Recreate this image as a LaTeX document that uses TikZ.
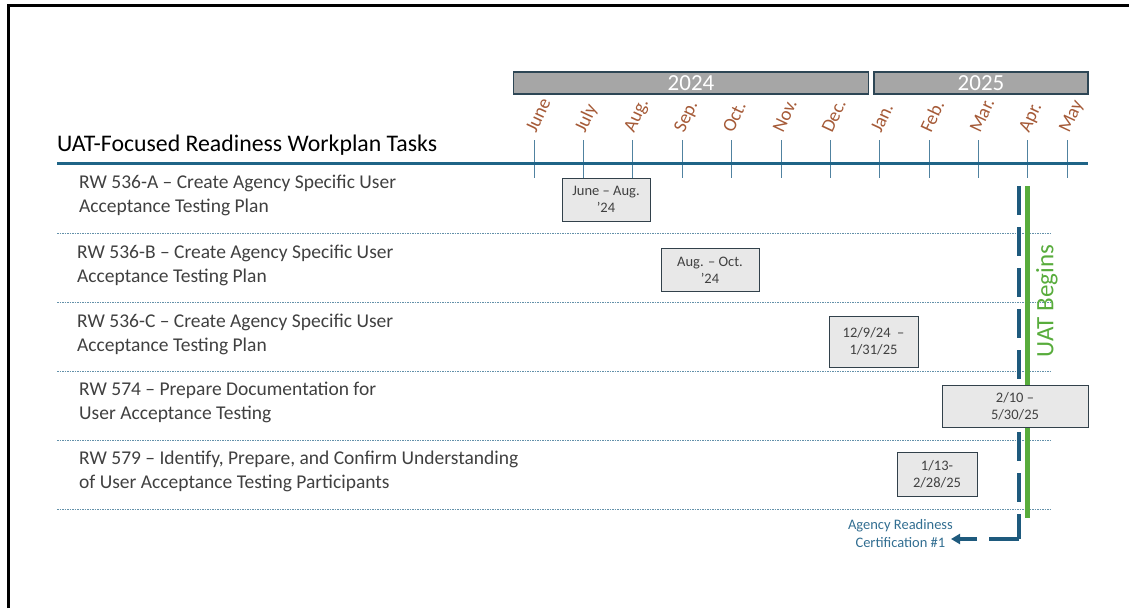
\documentclass[tikz,border=0pt]{standalone}
\usepackage{fontspec}
\setmainfont{Carlito}
\usetikzlibrary{arrows.meta}
\definecolor{txt}{RGB}{64,64,64}
\definecolor{axis}{RGB}{31,100,135}
\definecolor{tickc}{RGB}{80,130,160}
\definecolor{month}{RGB}{165,90,55}
\definecolor{yearfill}{RGB}{166,166,166}
\definecolor{yearedge}{RGB}{45,70,85}
\definecolor{boxfill}{RGB}{232,232,232}
\definecolor{boxedge}{RGB}{50,65,75}
\definecolor{sep}{RGB}{100,145,170}
\definecolor{uat}{RGB}{88,172,60}
\definecolor{cert}{RGB}{30,90,125}
\definecolor{certtxt}{RGB}{50,110,145}
\begin{document}
\begin{tikzpicture}[x=1pt,y=-1pt,
  yearbar/.style={draw=yearedge, line width=1.2pt, fill=yearfill, text=white, inner sep=0pt, font=\fontsize{23}{24}\selectfont},
  monthlbl/.style={text=month, rotate=65, anchor=base west, inner sep=0pt, font=\fontsize{19}{21}\selectfont},
  tickline/.style={draw=tickc, line width=1pt},
  tasktxt/.style={text=txt, anchor=north west, align=left, inner sep=0pt, font=\fontsize{19.5}{24}\selectfont},
  sepline/.style={draw=sep, line width=0.8pt, dash pattern=on 1.5pt off 1pt},
  datebox/.style={draw=boxedge, line width=1pt, fill=boxfill, text=txt, align=center, inner sep=0pt, font=\fontsize{14.5}{17}\selectfont},
]
\useasboundingbox (0,0) rectangle (1129,608);
% frame
\draw[line width=2.2pt] (8.5,608) -- (8.5,5.5) -- (1129,5.5);

% title
\node[anchor=base west, inner sep=0pt, font=\fontsize{23.8}{26}\selectfont] (title) at (57,151) {UAT-Focused Readiness Workplan Tasks};

% year bars
\node[yearbar, minimum width=355pt, minimum height=22pt] (y2024) at (691,83) {2024};
\node[yearbar, minimum width=214pt, minimum height=22pt] (y2025) at (981,83) {2025};

% ticks and months
\foreach \x/\m [count=\i] in {534/June,583/July,632/Aug.,682/Sep.,731/Oct.,781/Nov.,830/Dec.,879/Jan.,929/Feb.,978/Mar.,1027/Apr.,1067/May}{
  \draw[tickline] (\x,140) -- (\x,178);
  \node[monthlbl] (m\i) at (\x+2,134) {\m};
}
% main axis
\draw[axis, line width=3pt] (57,163) -- (1088,163);

% separators
\foreach \y in {233,302,371,440,509}{
  \draw[sepline] (57,\y) -- (1052,\y);
}

% tasks
\node[tasktxt] (t1) at (79,175) {RW 536-A -- Create Agency Specific User\\Acceptance Testing Plan};
\node[tasktxt] (t2) at (77,245) {RW 536-B -- Create Agency Specific User\\Acceptance Testing Plan};
\node[tasktxt] (t3) at (77,314) {RW 536-C -- Create Agency Specific User\\Acceptance Testing Plan};
\node[tasktxt] (t4) at (79,382) {RW 574 -- Prepare Documentation for\\User Acceptance Testing};
\node[tasktxt] (t5) at (79,451) {RW 579 -- Identify, Prepare, and Confirm Understanding\\of User Acceptance Testing Participants};

% date boxes
\node[datebox, minimum width=88pt, minimum height=43pt] (d1) at (606,199.5) {June -- Aug.\\'24};
\node[datebox, minimum width=98pt, minimum height=43pt] (d2) at (710,270) {Aug. -- Oct.\\'24};

% UAT lines
\coordinate (bluetop) at (1019,186);
\coordinate (bluecorner) at (1019,539);
\coordinate (greentop) at (1027,186);
\coordinate (greenbot) at (1027,518);
\draw[draw=cert, line width=4pt, dash pattern=on 29pt off 12pt] (bluetop) -- (bluecorner);
\draw[draw=uat, line width=5pt] (greentop) -- (greenbot);
\node[text=uat, rotate=90, inner sep=0pt, font=\fontsize{25}{27}\selectfont] (uatlbl) at (1047,301) {UAT Begins};

\node[datebox, minimum width=89pt, minimum height=51pt] (d3) at (873.5,341.5) {12/9/24~~--\\1/31/25};
\node[datebox, minimum width=146pt, minimum height=42pt] (d4) at (1015,406) {2/10 --\\5/30/25};
\node[datebox, minimum width=80pt, minimum height=44pt] (d5) at (937,474) {1/13-\\2/28/25};

% certification
\node[text=certtxt, align=center, anchor=east, inner sep=0pt, font=\fontsize{14.5}{18}\selectfont] (cert) at (953,534) {Agency Readiness\\Certification \#1};
\coordinate (arrtail) at (977,539);
\draw[draw=cert, line width=4pt] (bluecorner) -- (989,539);
\draw[draw=cert, line width=4pt, -{Triangle[length=9pt,width=10pt]}] (arrtail) -- (951,539);
\end{tikzpicture}
\end{document}
